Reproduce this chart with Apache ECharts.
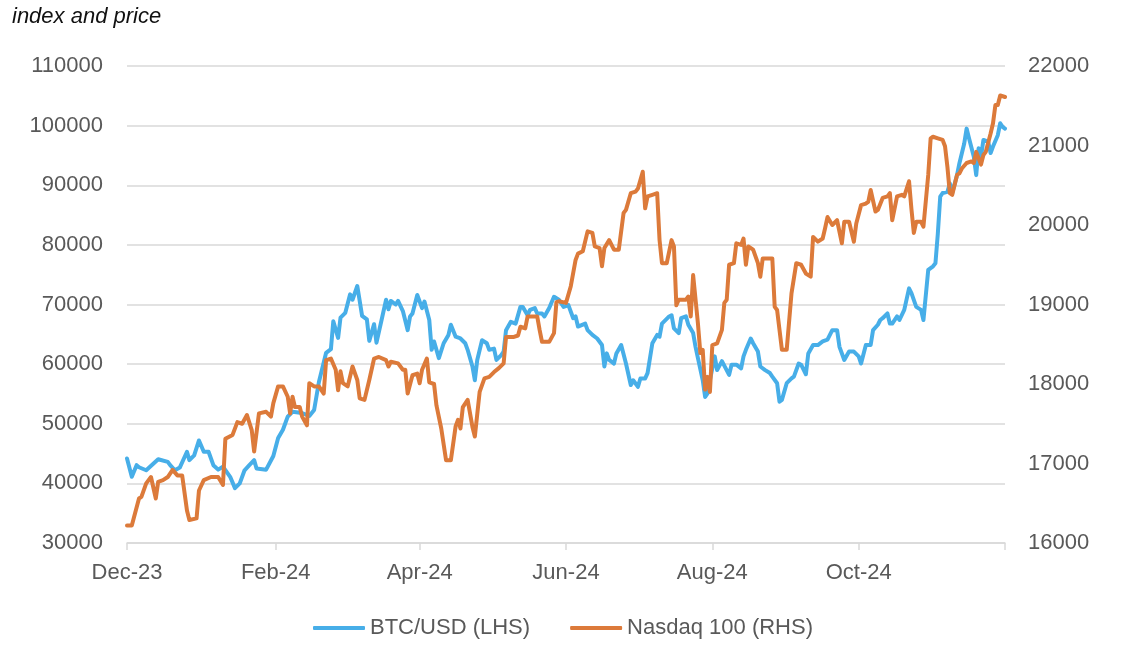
<!DOCTYPE html>
<html>
<head>
<meta charset="utf-8">
<script src="https://cdn.jsdelivr.net/npm/echarts@6/dist/echarts.min.js"></script>
<style>
html,body{margin:0;padding:0;background:#fff;}
#chart{width:1148px;height:664px;}
</style>
</head>
<body>
<div id="chart"></div>
<script>
const titleText = 'index and price';
const seriesNames = ['BTC/USD (LHS)', 'Nasdaq 100 (RHS)'];
const tickDates = ['2023-12-06','2024-02-06','2024-04-06','2024-06-06','2024-08-06','2024-10-06','2024-12-06'];
const tickLabels = ['Dec-23','Feb-24','Apr-24','Jun-24','Aug-24','Oct-24',''];

const btcDates = ['2023-12-06','2023-12-08','2023-12-10','2023-12-11','2023-12-14','2023-12-19','2023-12-23','2023-12-24','2023-12-26','2023-12-28','2023-12-31',
'2024-01-01','2024-01-03','2024-01-05','2024-01-07','2024-01-09','2024-01-11','2024-01-13','2024-01-15','2024-01-18','2024-01-20','2024-01-22','2024-01-24','2024-01-26','2024-01-28','2024-01-29',
'2024-02-02','2024-02-05','2024-02-07','2024-02-09','2024-02-11','2024-02-13','2024-02-17','2024-02-20','2024-02-22','2024-02-24','2024-02-27','2024-02-29',
'2024-03-01','2024-03-03','2024-03-04','2024-03-06','2024-03-08','2024-03-09','2024-03-11','2024-03-12','2024-03-13','2024-03-15','2024-03-16','2024-03-18','2024-03-19','2024-03-21','2024-03-23','2024-03-24','2024-03-25','2024-03-27','2024-03-28','2024-03-30',
'2024-04-01','2024-04-02','2024-04-03','2024-04-05','2024-04-07','2024-04-08','2024-04-10','2024-04-11','2024-04-12','2024-04-14','2024-04-16','2024-04-18','2024-04-19','2024-04-21','2024-04-23','2024-04-25','2024-04-26','2024-04-28','2024-04-29','2024-04-30',
'2024-05-02','2024-05-04','2024-05-05','2024-05-07','2024-05-08','2024-05-10','2024-05-11','2024-05-12','2024-05-14','2024-05-16','2024-05-18','2024-05-19','2024-05-21','2024-05-22','2024-05-24','2024-05-25','2024-05-27','2024-05-28','2024-05-30',
'2024-06-01','2024-06-03','2024-06-05','2024-06-07','2024-06-09','2024-06-10','2024-06-11','2024-06-14','2024-06-15','2024-06-17','2024-06-19','2024-06-21','2024-06-22','2024-06-23','2024-06-24','2024-06-26','2024-06-27','2024-06-29',
'2024-07-01','2024-07-03','2024-07-04','2024-07-06','2024-07-07','2024-07-09','2024-07-10','2024-07-12','2024-07-14','2024-07-15','2024-07-16','2024-07-19','2024-07-20','2024-07-21','2024-07-23','2024-07-24','2024-07-26','2024-07-27','2024-07-29','2024-07-30','2024-07-31',
'2024-08-02','2024-08-03','2024-08-04','2024-08-05','2024-08-07','2024-08-08','2024-08-10','2024-08-13','2024-08-14','2024-08-16','2024-08-18','2024-08-19','2024-08-20','2024-08-22','2024-08-23','2024-08-25','2024-08-26','2024-08-28','2024-08-30','2024-08-31',
'2024-09-02','2024-09-03','2024-09-04','2024-09-06','2024-09-08','2024-09-09','2024-09-11','2024-09-12','2024-09-14','2024-09-15','2024-09-17','2024-09-19','2024-09-21','2024-09-23','2024-09-25','2024-09-27','2024-09-28','2024-09-30',
'2024-10-02','2024-10-04','2024-10-06','2024-10-07','2024-10-09','2024-10-11','2024-10-12','2024-10-14','2024-10-15','2024-10-16','2024-10-18','2024-10-19','2024-10-20','2024-10-22','2024-10-23','2024-10-25','2024-10-27','2024-10-28','2024-10-30',
'2024-11-01','2024-11-02','2024-11-04','2024-11-06','2024-11-07','2024-11-08','2024-11-09','2024-11-10','2024-11-12','2024-11-13','2024-11-14','2024-11-16','2024-11-17','2024-11-19','2024-11-20','2024-11-21','2024-11-23','2024-11-24','2024-11-25','2024-11-26','2024-11-27','2024-11-29','2024-11-30',
'2024-12-01','2024-12-03','2024-12-04','2024-12-05','2024-12-06'];
const btcValues = [44170,41100,43050,42700,42200,44050,43600,43050,42200,42650,45300,
43900,44700,47200,45300,45300,43050,42300,42800,41100,39200,40000,42200,43050,43900,42500,
42300,44600,47600,49000,51200,52000,51800,51300,52300,57000,61900,62500,
67200,64400,67800,68600,71700,70800,73100,70600,68100,67500,63900,66700,63600,67200,70800,69200,70600,70000,70600,68900,
65700,68000,68500,71600,69400,70500,67400,62400,63800,61000,63500,64900,66600,64600,64300,63500,62400,59600,57300,60700,
64000,63500,62400,62600,60700,61500,62100,65700,67100,66800,69600,69600,68200,69100,69400,68500,68500,68000,69400,
71300,70800,69600,69900,67700,68000,66300,66800,65700,64900,64300,63200,59600,61800,60700,60100,61800,63200,
60100,56500,57300,56200,57600,57600,58500,63500,64900,64600,66800,68000,68200,66000,65200,67700,68000,66600,65200,62900,61000,
57300,54500,55100,57300,61300,59000,60500,58200,59900,59900,59300,61300,62400,64300,63500,62100,59600,59000,58500,57900,
56800,53700,54000,56800,57600,57900,60100,59900,58300,61800,63200,63200,63800,64100,65700,65700,62900,60700,
62100,62100,61300,60100,63200,63200,65700,66600,67400,67700,68500,66800,66800,68000,67400,69100,72700,71900,69600,
69100,67400,75800,76400,76900,81900,88100,88700,88900,90300,88700,91700,93700,97000,99500,97900,94800,91700,96200,94800,97600,97300,95400,
96500,98400,100400,99800,99500];

const ndxDates = ['2023-12-06','2023-12-08','2023-12-11','2023-12-12','2023-12-14','2023-12-16','2023-12-18','2023-12-19','2023-12-21','2023-12-23','2023-12-25','2023-12-27','2023-12-29','2023-12-31',
'2024-01-01','2024-01-04','2024-01-05','2024-01-07','2024-01-10','2024-01-13','2024-01-15','2024-01-16','2024-01-19','2024-01-21','2024-01-23','2024-01-25','2024-01-27','2024-01-28','2024-01-30',
'2024-02-02','2024-02-04','2024-02-05','2024-02-07','2024-02-09','2024-02-11','2024-02-12','2024-02-13','2024-02-14','2024-02-16','2024-02-17','2024-02-19','2024-02-20','2024-02-22','2024-02-24','2024-02-26','2024-02-27','2024-02-29',
'2024-03-02','2024-03-03','2024-03-04','2024-03-05','2024-03-07','2024-03-09','2024-03-11','2024-03-12','2024-03-14','2024-03-16','2024-03-18','2024-03-20','2024-03-23','2024-03-24','2024-03-25','2024-03-28','2024-03-30','2024-03-31',
'2024-04-01','2024-04-03','2024-04-05','2024-04-06','2024-04-07','2024-04-09','2024-04-10','2024-04-12','2024-04-13','2024-04-15','2024-04-17','2024-04-19','2024-04-21','2024-04-22','2024-04-23','2024-04-24','2024-04-26','2024-04-28','2024-04-29',
'2024-05-01','2024-05-03','2024-05-05','2024-05-07','2024-05-09','2024-05-11','2024-05-12','2024-05-15','2024-05-17','2024-05-18','2024-05-20','2024-05-21','2024-05-25','2024-05-26','2024-05-27','2024-05-30',
'2024-06-01','2024-06-02','2024-06-03','2024-06-06','2024-06-08','2024-06-10','2024-06-11','2024-06-13','2024-06-15','2024-06-17','2024-06-18','2024-06-20','2024-06-21','2024-06-22','2024-06-24','2024-06-26','2024-06-28','2024-06-30',
'2024-07-01','2024-07-03','2024-07-05','2024-07-06','2024-07-08','2024-07-09','2024-07-10','2024-07-12','2024-07-14','2024-07-15','2024-07-16','2024-07-18','2024-07-20','2024-07-21','2024-07-22','2024-07-23','2024-07-26','2024-07-27','2024-07-28','2024-07-29','2024-07-31',
'2024-08-01','2024-08-02','2024-08-03','2024-08-04','2024-08-05','2024-08-06','2024-08-08','2024-08-10','2024-08-11','2024-08-12','2024-08-13','2024-08-15','2024-08-16','2024-08-18','2024-08-19','2024-08-20','2024-08-21','2024-08-23','2024-08-25','2024-08-26','2024-08-27','2024-08-31',
'2024-09-01','2024-09-02','2024-09-04','2024-09-06','2024-09-08','2024-09-10','2024-09-12','2024-09-14','2024-09-16','2024-09-17','2024-09-19','2024-09-21','2024-09-22','2024-09-23','2024-09-25','2024-09-27','2024-09-29','2024-09-30',
'2024-10-02','2024-10-04','2024-10-05','2024-10-07','2024-10-09','2024-10-10','2024-10-11','2024-10-13','2024-10-14','2024-10-16','2024-10-18','2024-10-19','2024-10-20','2024-10-22','2024-10-24','2024-10-25','2024-10-27','2024-10-28','2024-10-29','2024-10-30',
'2024-11-01','2024-11-02','2024-11-04','2024-11-05','2024-11-06','2024-11-08','2024-11-10','2024-11-11','2024-11-12','2024-11-13','2024-11-14','2024-11-16','2024-11-17','2024-11-18','2024-11-20','2024-11-22','2024-11-23','2024-11-24','2024-11-26','2024-11-27','2024-11-28','2024-11-30',
'2024-12-01','2024-12-02','2024-12-03','2024-12-04','2024-12-06'];
const ndxValues = [16220,16220,16560,16580,16750,16830,16560,16770,16790,16830,16920,16850,16850,16410,
16290,16310,16660,16790,16830,16830,16730,17310,17360,17520,17500,17610,17420,17150,17630,
17650,17590,17760,17970,17970,17840,17630,17840,17710,17710,17590,17480,18010,17970,17970,17880,18300,18320,
18180,17920,18160,18010,17970,18220,18050,17820,17800,18050,18320,18340,18300,18220,18280,18260,18180,18180,
17880,18110,18130,18010,18180,18320,18020,18000,17730,17440,17040,17040,17470,17550,17440,17710,17800,17460,17340,
17900,18070,18090,18150,18200,18260,18590,18590,18610,18720,18700,18850,18850,18680,18530,18530,
18640,19030,19040,19020,19230,19560,19640,19670,19920,19900,19730,19710,19480,19710,19810,19690,19690,20150,
20190,20400,20420,20460,20670,20210,20360,20380,20400,19810,19520,19520,19810,19730,18990,19060,19060,19100,18850,19370,18760,
18390,18430,17930,18090,17900,18490,18510,18680,19020,19060,19500,19520,19770,19750,19830,19500,19730,19690,19520,19350,19580,19580,
18970,18930,18430,18430,19140,19520,19500,19390,19350,19850,19790,19830,19960,20100,20000,20060,19770,20040,
20040,19790,20020,20250,20270,20290,20440,20170,20190,20340,20360,20400,20060,20360,20380,20360,20550,20200,19900,20040,
20040,19980,20630,21090,21110,21090,21070,20990,20730,20400,20380,20630,20650,20710,20780,20800,20780,20920,20760,20880,20920,21150,
21280,21510,21510,21630,21610];

function ts(s){const p=s.split('-').map(Number);return Date.UTC(p[0],p[1]-1,p[2]);}
function pairs(d,v){return d.map((x,i)=>[ts(x),v[i]]);}
const tickTs = tickDates.map(ts);
const labelFont = '"Liberation Sans", Arial, Helvetica, sans-serif';
const plain = v => String(v);

const chart = echarts.init(document.getElementById('chart'), null, {renderer:'canvas'});
chart.setOption({
  animation:false,
  backgroundColor:'#ffffff',
  title:{text:titleText,left:12,top:6,padding:0,textStyle:{fontSize:22,fontStyle:'italic',fontWeight:'normal',color:'#111',fontFamily:labelFont}},
  legend:{
    left:313,top:617,itemGap:40,itemWidth:52,itemHeight:4,icon:'roundRect',padding:0,
    textStyle:{fontSize:22,color:'#595959',fontFamily:labelFont},
    data:seriesNames
  },
  grid:{left:127,right:143,top:66,bottom:121},
  xAxis:{
    type:'value',min:tickTs[0],max:tickTs[tickTs.length-1],
    axisLine:{show:true,lineStyle:{color:'#d9d9d9',width:1.5}},
    axisTick:{show:true,length:7,lineStyle:{color:'#d9d9d9',width:1.5},customValues:tickTs},
    axisLabel:{color:'#595959',fontSize:22,fontFamily:labelFont,margin:19,customValues:tickTs.slice(0,6),
      formatter:function(v){const i=tickTs.indexOf(v);return i>=0?tickLabels[i]:'';}},
    splitLine:{show:false}
  },
  yAxis:[
    {type:'value',min:30000,max:110000,interval:10000,position:'left',
     axisLine:{show:false},axisTick:{show:false},
     axisLabel:{color:'#595959',fontSize:22,fontFamily:labelFont,margin:24,formatter:plain},
     splitLine:{show:true,lineStyle:{color:'#d9d9d9',width:1.5}}},
    {type:'value',min:16000,max:22000,interval:1000,position:'right',
     axisLine:{show:false},axisTick:{show:false},
     axisLabel:{color:'#595959',fontSize:22,fontFamily:labelFont,margin:23,formatter:plain},
     splitLine:{show:false}}
  ],
  series:[
    {name:seriesNames[0],type:'line',yAxisIndex:0,showSymbol:false,symbol:'none',z:2,
     lineStyle:{color:'#47aee8',width:4,cap:'round',join:'round'},itemStyle:{color:'#47aee8'},
     data:pairs(btcDates,btcValues)},
    {name:seriesNames[1],type:'line',yAxisIndex:1,showSymbol:false,symbol:'none',z:3,
     lineStyle:{color:'#dc7a3a',width:4,cap:'round',join:'round'},itemStyle:{color:'#dc7a3a'},
     data:pairs(ndxDates,ndxValues)}
  ]
});
</script>
</body>
</html>
